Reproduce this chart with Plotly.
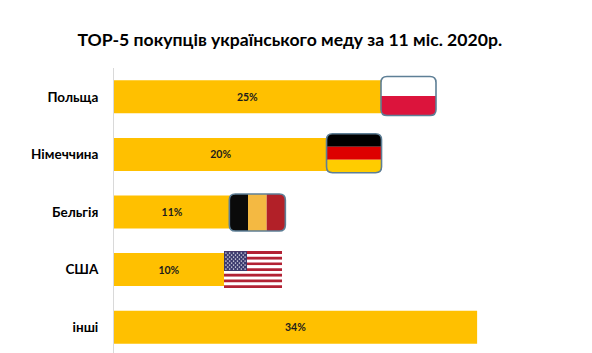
import plotly.graph_objects as go

categories = ["Польща", "Німеччина", "Бельгія", "США", "інші"]
shares = [25, 20, 10.9, 10.3, 34]
labels = ["25%", "20%", "11%", "10%", "34%"]
title = "ТОР-5 покупців українського меду за 11 міс. 2020р."

FONT = "Lato, Carlito, 'Open Sans', sans-serif"
BAR = "#FFC000"
positions = list(range(len(categories)))

fig = go.Figure(go.Bar(
    x=shares, y=positions, orientation="h", marker=dict(color=BAR, line=dict(width=0)),
    text=labels, textposition="inside", insidetextanchor="middle", textangle=0,
    textfont=dict(family=FONT, size=10.5, color="#1c1c1c", weight="bold"),
    hoverinfo="skip", width=0.573, cliponaxis=False,
))

XU = 1 / 10.68   # data units per pixel
YU = 1 / 57.6


def stripe(x0, x1, y0, y1, fill, tl=0, tr=0, br=0, bl=0):
    """Rectangle path with optional rounded corners (radii in px)."""
    p = [f"M {x0 + tl*XU} {y0}", f"L {x1 - tr*XU} {y0}"]
    if tr: p.append(f"Q {x1} {y0} {x1} {y0 + tr*YU}")
    p.append(f"L {x1} {y1 - br*YU}")
    if br: p.append(f"Q {x1} {y1} {x1 - br*XU} {y1}")
    p.append(f"L {x0 + bl*XU} {y1}")
    if bl: p.append(f"Q {x0} {y1} {x0} {y1 - bl*YU}")
    p.append(f"L {x0} {y0 + tl*YU}")
    if tl: p.append(f"Q {x0} {y0} {x0 + tl*XU} {y0}")
    p.append("Z")
    return dict(type="path", path=" ".join(p), xref="x", yref="y", fillcolor=fill,
                line=dict(width=0), layer="above")


def rounded_flag(start, centre, w_px, h_px, cols=None, rows=None, r=6):
    w, h = w_px * XU, h_px * YU
    x0, y0 = start, centre - h / 2
    x1, y1 = x0 + w, y0 + h
    out = []
    if rows:
        n = len(rows)
        for i, c in enumerate(rows):
            ya, yb = y0 + h * i / n, y0 + h * (i + 1) / n
            kw = {}
            if i == 0: kw.update(tl=r, tr=r)
            if i == n - 1: kw.update(bl=r, br=r)
            out.append(stripe(x0, x1, ya, yb, c, **kw))
    else:
        n = len(cols)
        for i, c in enumerate(cols):
            xa, xb = x0 + w * i / n, x0 + w * (i + 1) / n
            kw = {}
            if i == 0: kw.update(tl=r, bl=r)
            if i == n - 1: kw.update(tr=r, br=r)
            out.append(stripe(xa, xb, y0, y1, c, **kw))
    border = stripe(x0, x1, y0, y1, "rgba(0,0,0,0)", tl=r, tr=r, br=r, bl=r)
    border["line"] = dict(color="#5E7F96", width=1.6)
    out.append(border)
    return out


shapes = []
shapes += rounded_flag(25.0, 0 - 0.014, 55, 39, rows=["#FFFFFF", "#DC143C"])
shapes += rounded_flag(19.9, 1 - 0.02, 55, 39, rows=["#000000", "#DD0000", "#FFCC00"])
shapes += rounded_flag(10.8, 2 + 0.01, 56, 37, cols=["#0A0A0A", "#F4B942", "#B22028"])

# USA flag
ux0, ucy, uw, uh = 10.3, 3, 58 * XU, 37 * YU
uy0 = ucy - uh / 2
for i in range(13):
    shapes.append(dict(type="rect", xref="x", yref="y", x0=ux0, x1=ux0 + uw,
                       y0=uy0 + uh * i / 13, y1=uy0 + uh * (i + 1) / 13,
                       fillcolor="#B22234" if i % 2 == 0 else "#FFFFFF",
                       line=dict(width=0), layer="above"))
cw, ch = 23 * XU, uh * 7 / 13
shapes.append(dict(type="rect", xref="x", yref="y", x0=ux0, x1=ux0 + cw, y0=uy0, y1=uy0 + ch,
                   fillcolor="#3C3B6E", line=dict(width=0), layer="above"))
dots = []
for r in range(9):
    ncol = 6 if r % 2 == 0 else 5
    for c in range(ncol):
        cx = ux0 + cw * ((c + (0.5 if r % 2 == 0 else 1)) / 6)
        cy = uy0 + ch * (r + 1) / 10
        dots.append(f"M {cx - 0.9*XU} {cy} L {cx} {cy - 0.9*YU} L {cx + 0.9*XU} {cy} L {cx} {cy + 0.9*YU} Z")
shapes.append(dict(type="path", path=" ".join(dots), xref="x", yref="y",
                   fillcolor="#E8E8F0", line=dict(width=0), layer="above"))

fig.update_layout(
    width=592, height=353, autosize=False, showlegend=False,
    paper_bgcolor="white", plot_bgcolor="white",
    margin=dict(l=114, r=32, t=68, b=0),
    title=dict(text=title, x=0.4895, xanchor="center", y=0.886, yanchor="middle",
               font=dict(family=FONT, size=17.6, color="#000000", weight="bold")),
    shapes=shapes,
    xaxis=dict(range=[0, 41.76], visible=False, fixedrange=True),
    yaxis=dict(range=[4.448, -0.5], tickmode="array", tickvals=positions, ticktext=categories,
               showgrid=False, zeroline=False, showline=True, linecolor="#D9D9D9", linewidth=1,
               ticks="outside", ticklen=12, tickcolor="rgba(0,0,0,0)",
               tickfont=dict(family=FONT, size=13.5, color="#000000", weight="bold"),
               fixedrange=True),
    bargap=0.427,
)

fig.write_html("out.html", config={"displayModeBar": False},
               post_script="document.body.style.margin='0';document.body.style.overflow='hidden';")
